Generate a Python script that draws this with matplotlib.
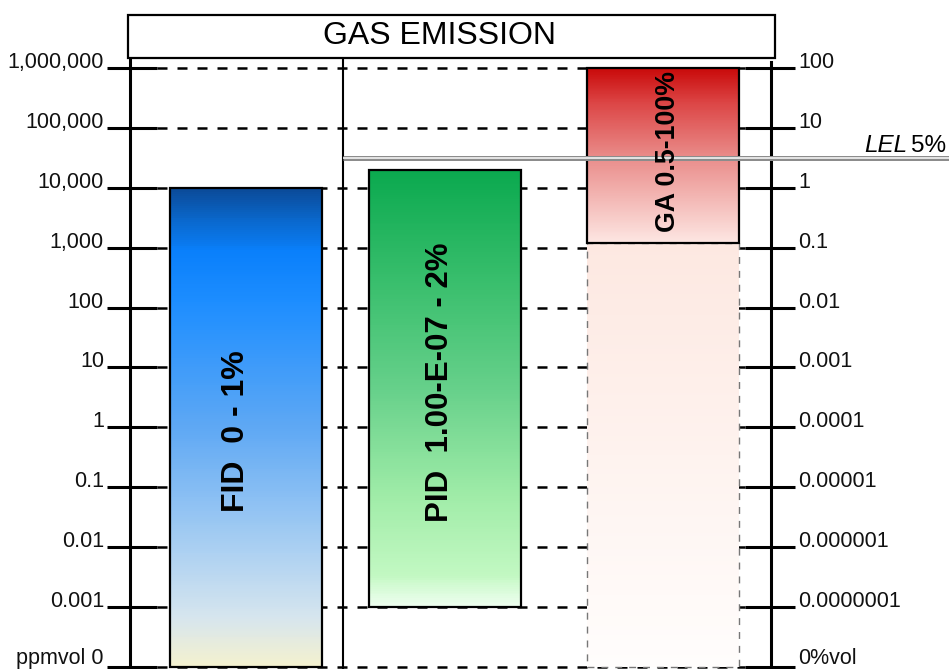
import numpy as np
import matplotlib
matplotlib.use("Agg")
import matplotlib.pyplot as plt
from matplotlib.colors import LinearSegmentedColormap
from matplotlib.patches import Rectangle

plt.rcParams['font.family'] = ['Liberation Sans', 'DejaVu Sans']

# scale levels (ppm) and their labels on both sides
ppm_ticks = [0, 0.001, 0.01, 0.1, 1, 10, 100, 1000, 10000, 100000, 1000000]
ppm_labels = ["ppmvol 0", "0.001", "0.01", "0.1", "1", "10", "100",
              "1,000", "10,000", "100,000", "1,000,000"]
vol_labels = ["0%vol", "0.0000001", "0.000001", "0.00001", "0.0001", "0.001",
              "0.01", "0.1", "1", "10", "100"]

# detector ranges in %vol
detectors = ["FID", "PID", "GA"]
detector_labels = ["FID  0 - 1%", "PID  1.00-E-07 - 2%", "GA 0.5-100%"]
range_low_vol = [0, 1e-7, 0.12]
range_high_vol = [1, 2, 100]
ga_below_vol = [0, 0.12]
lel_line_vol = 3.2
PPM_PER_VOL = 10000

# layout (pixels, 949 x 669 canvas)
W, H = 949, 669
bar_x = {"FID": (170, 322), "PID": (369, 521), "GA": (587, 739)}
label_pos = {"FID": (236, 431, 23), "PID": (440, 382, 22.5), "GA": (668, 152, 19.3)}

cmaps = {
    "FID": LinearSegmentedColormap.from_list("fid", [
        (0.0, "#f4f1cf"), (0.1, "#d6e5ee"), (0.25, "#a9cff2"), (0.5, "#5ea8f4"),
        (0.76, "#1e8eff"), (0.87, "#0a80fb"), (0.95, "#0a62c2"), (1.0, "#0b4a98")]),
    "PID": LinearSegmentedColormap.from_list("pid", [
        (0.0, "#effff0"), (0.07, "#c2f8c2"), (0.25, "#a0eca8"), (0.5, "#66d08a"),
        (0.75, "#38be6c"), (1.0, "#0ba94f")]),
    "GA": LinearSegmentedColormap.from_list("ga", [
        (0.0, "#fde6e2"), (0.5, "#e98a88"), (0.8, "#dc4646"), (1.0, "#c90a0a")]),
}
ga_below_cmap = LinearSegmentedColormap.from_list("gab", [(0.0, "#fffdfc"), (1.0, "#fde8e1")])

fig = plt.figure(figsize=(W / 100, H / 100), dpi=100)
ax = fig.add_axes([0, 0, 1, 1])
ax.set_yscale('symlog', linthresh=1e-3, linscale=0.9)
ax.set_xlim(0, W)
ax.set_ylim(-3.34e-5, 1.365e7)
ax.axis('off')

ytr = ax.yaxis.get_transform()
yinv = ytr.inverted()
xa = ax.get_xaxis_transform()


def fy(p):
    # pixel from top -> axes fraction
    return 1 - p / H


def gradient_bar(x0, x1, lo, hi, cmap, n=240):
    t = ytr.transform(np.array([lo, hi], dtype=float))
    edges = yinv.transform(np.linspace(t[0], t[1], n + 1))
    c = np.linspace(0, 1, n).reshape(n, 1)
    ax.pcolormesh(np.array([x0, x1]), edges, c, cmap=cmap, shading='flat', zorder=3)


# dashed guide lines
for v in ppm_ticks:
    ax.hlines(v, 157, 745, colors='black', lw=1.8, linestyles=(0, (4, 4)), zorder=1)

# ticks
for v in ppm_ticks:
    ax.hlines(v, 107, 157, colors='black', lw=2.2, zorder=2)
    ax.hlines(v, 745, 795, colors='black', lw=2.2, zorder=2)

# axis lines
ax.plot([130, 130], [0, fy(60)], color='black', lw=2.2, transform=xa, zorder=2)
ax.plot([771, 771], [0, fy(62)], color='black', lw=2.2, transform=xa, zorder=2)
ax.plot([343, 343], [0, fy(60)], color='black', lw=1.5, transform=xa, zorder=2)

for v, lab, rlab in zip(ppm_ticks, ppm_labels, vol_labels):
    if v == 0:
        # bottom row: keep descenders inside the canvas
        ax.text(104, 0, lab, ha='right', va='bottom', fontsize=15.5, color='#111111',
                transform=xa)
        ax.text(798, 0, rlab, ha='left', va='bottom', fontsize=15.5, color='#111111',
                transform=xa)
        continue
    ax.text(104, v, lab, ha='right', va='baseline', fontsize=15.5, color='#111111')
    ax.text(798, v, rlab, ha='left', va='baseline', fontsize=15.5, color='#111111')

# GA lower extension box
x0, x1 = bar_x["GA"]
lo, hi = [g * PPM_PER_VOL for g in ga_below_vol]
gradient_bar(x0, x1, lo, hi, ga_below_cmap)
ax.add_patch(Rectangle((x0, lo), x1 - x0, hi - lo, fill=False, ec='#777777', lw=1.0,
                       linestyle=(0, (5, 5)), zorder=4))

# detector bars
for name, lab, lo_v, hi_v in zip(detectors, detector_labels, range_low_vol, range_high_vol):
    x0, x1 = bar_x[name]
    lo, hi = lo_v * PPM_PER_VOL, hi_v * PPM_PER_VOL
    gradient_bar(x0, x1, lo, hi, cmaps[name])
    ax.add_patch(Rectangle((x0, lo), x1 - x0, hi - lo, fill=False, ec='black', lw=1.6, zorder=5))
    lx, ly, fs = label_pos[name]
    ax.text(lx, fy(ly), lab, rotation=90, ha='center', va='center', fontsize=fs,
            fontweight='bold', transform=xa, zorder=7)

# LEL line
lel = lel_line_vol * PPM_PER_VOL
ax.hlines(lel, 343, W, colors='#8c8c8c', lw=3.6, zorder=6)
ax.hlines(lel, 343, W, colors='#f4f4f4', lw=1.2, zorder=6)
ax.text(907, fy(152), "LEL", ha='right', va='baseline', fontsize=17.5, style='italic',
        transform=xa)
ax.text(911, fy(152), "5%", ha='left', va='baseline', fontsize=17.5, transform=xa)

# title box
ax.add_patch(Rectangle((128, fy(58)), 647, (58 - 15) / H, transform=xa, fc='white',
                       ec='black', lw=1.6, zorder=8))
ax.text(440, fy(36.5), "GAS EMISSION", ha='center', va='center', fontsize=23,
        transform=xa, zorder=9)

fig.savefig("out.png", dpi=100)
